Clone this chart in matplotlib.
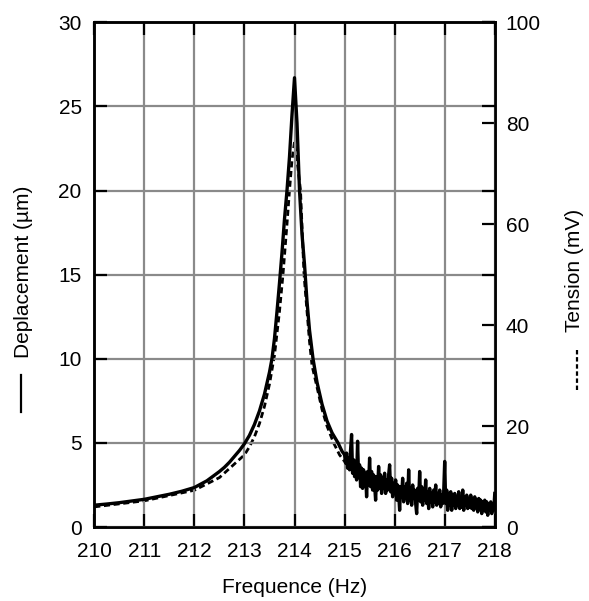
import numpy as np
import matplotlib
matplotlib.use('Agg')
import matplotlib.pyplot as plt
from matplotlib.lines import Line2D

plt.rcParams['font.family'] = ['Liberation Sans', 'DejaVu Sans']

# displacement (um), smooth part
freq_disp = [210.0, 210.25, 210.5, 210.75, 211.0, 211.25, 211.5, 211.75, 212.0,
             212.25, 212.5, 212.6, 212.7, 212.8, 212.9, 213.0, 213.1, 213.2, 213.3,
             213.4, 213.5, 213.55, 213.6, 213.65, 213.7, 213.75, 213.8, 213.85,
             213.9, 213.95, 214.0, 214.05, 214.1, 214.15, 214.2, 214.25, 214.3,
             214.37, 214.45, 214.55, 214.65, 214.75, 214.87, 214.95]
disp = [1.30, 1.37, 1.45, 1.55, 1.65, 1.80, 1.95, 2.13, 2.35,
        2.75, 3.30, 3.55, 3.85, 4.2, 4.55, 4.95, 5.45, 6.1, 6.9,
        7.9, 9.2, 10.0, 11.2, 12.8, 14.5, 16.3, 18.3, 20.0,
        22.0, 24.5, 26.7, 24.0, 20.0, 17.4, 15.6, 13.4, 11.7,
        10.0, 8.6, 7.3, 6.3, 5.6, 5.0, 4.5]

# displacement (um), noisy tail 215 -> 218 Hz, one value every 0.02 Hz
disp_noise = [4.3, 3.8, 4.4, 3.5, 4.1, 3.4, 4.6, 5.5, 3.2, 4.0,
              3.0, 3.9, 2.8, 5.1, 3.0, 3.7, 2.4, 3.5, 2.3, 3.4,
              2.6, 3.2, 1.8, 3.3, 2.5, 4.1, 2.4, 3.3, 2.2, 3.1,
              2.5, 1.6, 3.0, 2.2, 3.6, 2.3, 3.1, 2.0, 2.9, 2.3,
              3.2, 2.0, 2.8, 2.2, 3.1, 3.7, 2.1, 2.9, 1.8, 2.6,
              2.0, 2.8, 1.6, 2.5, 2.0, 1.0, 2.4, 1.8, 2.9, 1.5,
              2.4, 1.7, 2.6, 1.4, 3.4, 1.6, 2.3, 1.3, 2.5, 1.7,
              2.2, 1.4, 0.8, 2.3, 1.6, 3.3, 1.5, 2.4, 1.3, 2.2,
              1.6, 2.8, 1.4, 2.1, 1.1, 2.3, 1.5, 2.0, 1.2, 2.2,
              1.5, 2.5, 1.3, 2.0, 1.4, 2.2, 1.2, 1.9, 1.4, 2.1,
              3.9, 1.4, 2.2, 1.0, 2.0, 1.3, 2.1, 1.0, 1.9, 1.3,
              2.0, 1.1, 1.8, 1.3, 2.1, 1.1, 1.7, 1.2, 2.2, 1.0,
              1.8, 1.3, 1.9, 1.1, 1.7, 1.2, 1.9, 1.1, 1.7, 1.0,
              1.8, 1.2, 1.6, 0.9, 1.7, 1.1, 1.6, 0.8, 1.5, 1.0,
              1.6, 0.9, 1.5, 0.7, 1.4, 1.0, 1.5, 0.8, 1.3, 1.0,
              2.0]
freq_noise = np.linspace(215.0, 218.0, len(disp_noise))

# tension (mV)
freq_tens = [210.0, 211.0, 212.0, 212.5, 213.0, 213.1, 213.2, 213.3, 213.4, 213.5,
             213.6, 213.7, 213.77, 213.85, 213.9, 213.95, 214.0, 214.05, 214.12,
             214.19, 214.3, 214.35, 214.45, 214.55, 214.65, 214.78, 214.9, 215.0,
             215.25, 215.5, 216.0, 217.0, 218.0]
tension = [4.0, 5.2, 7.3, 9.8, 14.3, 15.9, 17.9, 20.5, 23.9, 28.3,
           34.0, 42.7, 50.0, 60.0, 66.7, 72.7, 76.3, 72.7, 66.7,
           50.0, 36.7, 32.0, 27.7, 23.3, 20.0, 16.7, 14.3, 13.0,
           10.7, 8.7, 6.7, 5.0, 4.0]

x_ticks = [210, 211, 212, 213, 214, 215, 216, 217, 218]
left_ticks = [0, 5, 10, 15, 20, 25, 30]
right_ticks = [0, 20, 40, 60, 80, 100]

fig = plt.figure(figsize=(5.89, 6.01), dpi=100)
ax = fig.add_axes([0.160, 0.123, 0.680, 0.840])
ax2 = ax.twinx()

ax2.plot(freq_tens, tension, color='black', lw=2.0, dashes=(2.2, 1.3), zorder=2)
ax.plot(list(freq_disp) + list(freq_noise), disp + disp_noise, color='black', lw=2.4, zorder=3)

ax.set_zorder(ax2.get_zorder() + 1)
ax.patch.set_visible(False)

ax.set_xlim(210, 218)
ax.set_ylim(0, 30)
ax2.set_ylim(0, 100)
ax.set_xticks(x_ticks)
ax.set_yticks(left_ticks)
ax2.set_yticks(right_ticks)

ax.grid(True, color='#8a8a8a', lw=1.6)
ax.set_axisbelow(True)

ax.tick_params(direction='in', length=9.5, width=1.6, labelsize=15, pad=9,
               top=True, right=True, color='black')
ax.tick_params(axis='x', pad=11)
ax2.tick_params(direction='in', length=9.5, width=1.6, labelsize=15, pad=8, color='black')

for a in (ax, ax2):
    for s in a.spines.values():
        s.set_linewidth(1.8)
        s.set_color('black')

fig.text(0.5, 0.022, 'Frequence (Hz)', ha='center', va='center', fontsize=15)
fig.text(0.040, 0.547, 'Deplacement (µm)', ha='center', va='center',
         rotation=90, fontsize=15)
fig.text(0.976, 0.550, 'Tension (mV)', ha='center', va='center',
         rotation=90, fontsize=15)

# little line samples in front of the axis titles
fig.add_artist(Line2D([0.036, 0.036], [0.314, 0.376], color='black', lw=1.6,
                      transform=fig.transFigure))
fig.add_artist(Line2D([0.980, 0.980], [0.351, 0.418], color='black', lw=1.6,
                      dashes=(2.0, 1.2), transform=fig.transFigure))

fig.savefig('out.png', dpi=100)
